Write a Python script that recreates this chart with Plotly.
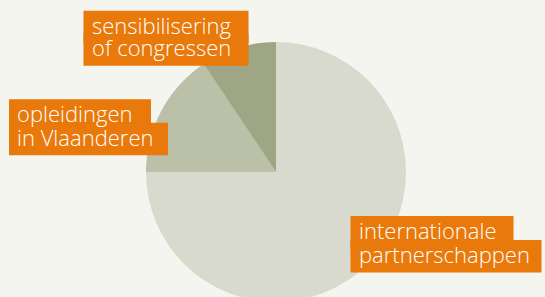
import plotly.graph_objects as go

# Data
categories = ["internationale partnerschappen", "opleidingen in Vlaanderen", "sensibilisering of congressen"]
values = [75.0, 15.6, 9.4]
label_lines = [
    ["internationale", "partnerschappen"],
    ["opleidingen", "in Vlaanderen"],
    ["sensibilisering", "of congressen"],
]
slice_colors = ["#d8dacd", "#bbc0a9", "#9fa685"]

W, H = 545, 304
BG = "#f5f5f0"
ORANGE = "#e8790a"
FONT = "Open Sans"
FS = 22

cx, cy, r = 276, 172, 130

fig = go.Figure(go.Pie(
    labels=categories,
    values=values,
    sort=False,
    direction="clockwise",
    rotation=0,
    textinfo="none",
    hoverinfo="label+percent",
    marker=dict(colors=slice_colors, line=dict(width=0)),
    domain=dict(x=[(cx - r) / W, (cx + r) / W], y=[(H - cy - r) / H, (H - cy + r) / H]),
    showlegend=False,
))

# label layout: text left edge, baselines, and highlight box widths (pixels)
label_pos = [
    (357.5, [238.5, 262.5], [163, 191]),
    (16, [121.7, 145.3], [142, 159]),
    (90.5, [33.3, 55.8], [165, 165]),
]

PAD = 7
shapes, anns = [], []
for lines, (lx, bases, widths) in zip(label_lines, label_pos):
    for txt, b, bw in zip(lines, bases, widths):
        x0 = lx - PAD
        shapes.append(dict(
            type="rect", xref="paper", yref="paper",
            x0=x0 / W, x1=(x0 + bw) / W, y0=1 - (b + 10) / H, y1=1 - (b - 22.5) / H,
            fillcolor=ORANGE, line=dict(width=0), layer="above",
        ))
        txt_center = b - 0.388 * FS
        anns.append(dict(
            text=txt, x=lx / W, y=1 - txt_center / H, xref="paper", yref="paper",
            xanchor="left", yanchor="middle", showarrow=False, borderpad=0,
            font=dict(family=FONT, size=FS, color="white", weight=300),
        ))

fig.update_layout(
    width=W, height=H,
    margin=dict(l=0, r=0, t=0, b=0),
    paper_bgcolor=BG, plot_bgcolor=BG,
    shapes=shapes,
    annotations=anns,
)

fig.write_html(
    "out.html",
    config={"displayModeBar": False},
    post_script="document.body.style.overflow='hidden';document.body.style.margin='0';document.documentElement.style.overflow='hidden';",
)
